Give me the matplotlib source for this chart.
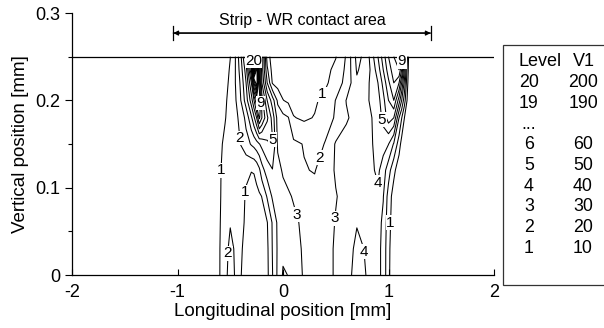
import numpy as np
import matplotlib
matplotlib.use("Agg")
import matplotlib.pyplot as plt
from matplotlib.patches import Rectangle

plt.rcParams['font.family'] = ['Liberation Sans', 'DejaVu Sans']
plt.rcParams['axes.unicode_minus'] = False

# Sampling positions of the V1 field [mm]
x_nodes = [-2.0, -0.7, -0.6, -0.55, -0.5, -0.45, -0.4, -0.35, -0.3, -0.275,
           -0.25, -0.225, -0.2, -0.15, -0.1, -0.05, 0.0, 0.05, 0.1, 0.2,
           0.3, 0.4, 0.5, 0.6, 0.7, 0.8, 0.9, 0.95, 1.0, 1.05,
           1.1, 1.125, 1.15, 1.175, 1.2, 2.0]
y_nodes = [0.0, 0.03, 0.06, 0.09, 0.12, 0.15, 0.18, 0.2, 0.22, 0.235, 0.25]

# V1 values, one row per y_nodes entry, one column per x_nodes entry
v1_y000 = [0, 2, 9.8, 17, 24, 19, 10.3, 7, 5, 5, 5, 5.5, 6, 7.5, 19.6, 32, 41, 39.8,
           35, 29, 25, 27, 31, 37, 43, 39.5, 33, 27, 12, 3, 0, 0, 0, 0, 0, 0]
v1_y003 = [0, 2, 9.7, 17, 22, 19, 11, 7.5, 5.5, 5, 5, 5.5, 6, 8, 20.5, 31.5, 38, 37,
           34, 28.5, 25, 27, 31, 36, 42, 39, 33, 27, 12.5, 3, 0, 0, 0, 0, 0, 0]
v1_y006 = [0, 2.5, 9.3, 15.5, 19.5, 19.8, 12.5, 8.5, 6.5, 6, 6, 6.5, 7, 9.5, 21, 32, 36, 35,
           32.5, 27.5, 25, 26, 30.5, 35, 39.5, 37.5, 33.5, 28, 14, 4, 0, 0, 0, 0, 0, 0]
v1_y009 = [0, 3, 9, 14, 17, 17.5, 13.5, 9, 7.5, 7, 7.5, 8.5, 10.2, 21, 31.5, 35, 34, 31.5,
           29, 25, 23, 25, 29.5, 33, 35, 36, 38, 30.5, 16, 5, 0, 0, 0, 0, 0, 0]
v1_y012 = [0, 3.5, 9, 13, 15.5, 16, 14, 11.5, 10.2, 10.5, 13, 18, 26, 35, 39.5, 34, 28.5, 26,
           23.5, 20.5, 19.5, 25, 31, 33, 34, 36, 42, 35, 24, 13, 3, 0, 0, 0, 0, 0]
v1_y015 = [0, 4, 8.5, 11.5, 14.5, 17, 20.3, 26, 31, 33, 36, 39.5, 43, 48, 51, 28, 26, 23.5,
           22, 19.5, 16, 20.5, 31, 33, 34, 37, 43, 44, 40.3, 29, 15, 6, 0, 0, 0, 0]
v1_y018 = [0, 5, 8, 9.5, 13, 17.5, 23, 33, 48, 58, 70, 92, 80, 62, 46, 26, 23, 20.5,
           10.5, 8.5, 10.5, 16, 21, 29, 33, 37, 44, 53, 65, 60, 30, 20.3, 10.3, 2, 0, 0]
v1_y020 = [0, 5.5, 7.5, 9, 12, 19, 30, 45, 65, 80, 100, 110, 75, 50, 35, 18, 10.3, 8,
           6.5, 6, 8.5, 13, 20.3, 30.3, 36, 39, 46, 57, 70, 80, 55, 40, 25, 10.3, 0, 0]
v1_y022 = [0, 6, 7, 8.5, 11, 20.3, 32, 50, 80, 120, 150, 95, 60, 30, 9, 6, 5, 4.5,
           4, 4, 5, 8, 15, 23, 38.5, 38, 50, 63, 78, 90, 80, 60, 38, 15, 0, 0]
v1_y0235 = [0, 6, 7, 8, 10.5, 20.3, 35, 55, 100, 190, 150, 90, 55, 22, 6, 4.5, 4, 3.5,
            3.5, 3.5, 4, 7, 12.5, 22, 41, 35, 55, 70, 85, 95, 100, 80, 50, 20, 0, 0]
v1_y025 = [0, 6, 7, 8, 9.9, 20.3, 38, 65, 140, 230, 160, 100, 60, 15, 5, 4, 3.5, 3,
           3, 3, 3.5, 6.5, 9.5, 21, 43, 36, 60, 75, 90, 100, 105, 100, 60, 25, 0, 0]

contour_levels = [10, 20, 30, 40, 50, 60, 70, 80, 90, 100,
                  110, 120, 130, 140, 150, 160, 170, 180, 190, 200]
level_numbers = [1, 2, 3, 4, 5, 6, 7, 8, 9, 10,
                 11, 12, 13, 14, 15, 16, 17, 18, 19, 20]

# Where individual contour labels sit: V1 level with its x, y
label_levels = [200, 90, 50, 20, 10, 10, 20, 30, 30, 40, 10, 40, 50, 90, 10, 20]
label_x = [-0.28, -0.23, -0.12, -0.39, -0.57, -0.36, -0.51, 0.13, 0.49, 0.79,
           1.04, 0.87, 0.94, 1.08, 0.35, 0.35]
label_y = [0.245, 0.197, 0.155, 0.157, 0.12, 0.095, 0.025, 0.069, 0.065, 0.027,
           0.06, 0.105, 0.178, 0.245, 0.208, 0.134]

surface_y = 0.25
contact_start = -1.04
contact_end = 1.40

legend_level_col = ["20", "19", "...", "6", "5", "4", "3", "2", "1"]
legend_v1_col = ["200", "190", "", "60", "50", "40", "30", "20", "10"]

W, H = 604, 328
fig = plt.figure(figsize=(W / 100, H / 100), dpi=100)
ax = fig.add_axes([72 / W, 53 / H, 422 / W, 262 / H])

field = np.array([v1_y000, v1_y003, v1_y006, v1_y009, v1_y012, v1_y015,
                  v1_y018, v1_y020, v1_y022, v1_y0235, v1_y025], dtype=float)
X, Y = np.meshgrid(x_nodes, y_nodes)
cs = ax.contour(X, Y, field, levels=contour_levels, colors='black', linewidths=0.75)

fmt = {v: str(n) for v, n in zip(contour_levels, level_numbers)}
# set up label formatting for every level, then place each label on its own level
ax.clabel(cs, levels=contour_levels, manual=[], fmt=fmt, fontsize=11,
          inline=True, inline_spacing=1)
all_indices = list(cs.labelIndiceList)
for lev, lx, ly in zip(label_levels, label_x, label_y):
    cs.labelIndiceList = [contour_levels.index(lev)]
    cs.add_label_near(lx, ly, inline=True, inline_spacing=1)
cs.labelIndiceList = all_indices
for t in cs.labelTexts:
    t.set_rotation(0)
    t.set_bbox(dict(facecolor='white', edgecolor='none', pad=0.3))
    t.set_zorder(5)

# strip surface
ax.axhline(surface_y, color='black', lw=0.9)

# contact-area dimension arrow
arrow_y = 0.277
ax.annotate('', xy=(contact_end, arrow_y), xytext=(contact_start, arrow_y),
            arrowprops=dict(arrowstyle='-|>', color='black', lw=0.9,
                            mutation_scale=7, shrinkA=0, shrinkB=0))
ax.annotate('', xy=(contact_start, arrow_y), xytext=(contact_end, arrow_y),
            arrowprops=dict(arrowstyle='-|>', color='black', lw=0.9,
                            mutation_scale=7, shrinkA=0, shrinkB=0))
for xe in (contact_start, contact_end):
    ax.plot([xe, xe], [0.269, 0.285], color='black', lw=0.9)
ax.text((contact_start + contact_end) / 2, 0.291, 'Strip - WR contact area',
        ha='center', va='center', fontsize=11.5)

ax.set_xlim(-2, 2)
ax.set_ylim(0, 0.3)
ax.set_xticks([-2, -1, 0, 1, 2])
ax.set_xticklabels(['-2', '-1', '0', '1', '2'])
ax.set_yticks([0, 0.1, 0.2, 0.3])
ax.set_yticklabels(['0', '0.1', '0.2', '0.3'])
ax.set_yticks([0.05, 0.15, 0.25], minor=True)
ax.tick_params(axis='x', direction='in', length=4.5, width=0.8, pad=6.5, labelsize=13)
ax.tick_params(axis='y', which='major', direction='out', length=5, width=0.8,
               pad=3.5, labelsize=13)
ax.tick_params(axis='y', which='minor', direction='out', length=2.7, width=0.8)
for s in ('top', 'right'):
    ax.spines[s].set_visible(False)
for s in ('left', 'bottom'):
    ax.spines[s].set_linewidth(0.9)

ax.set_xlabel('Longitudinal position [mm]', fontsize=13.5)
ax.set_ylabel('Vertical position [mm]', fontsize=13.5)
ax.xaxis.set_label_coords(0.5, -0.108)
ax.yaxis.set_label_coords(-0.102, 0.5)

# level table
fig.add_artist(Rectangle((503 / W, 1 - 285 / H), 0.3, 240 / H, transform=fig.transFigure,
                         facecolor='white', edgecolor='#333333', lw=0.9))
row_px = 62
step = 20.7
fig.text(519 / W, 1 - row_px / H, 'Level', ha='left', va='center', fontsize=13)
fig.text(573 / W, 1 - row_px / H, 'V1', ha='left', va='center', fontsize=13)
for i, (lv, vv) in enumerate(zip(legend_level_col, legend_v1_col)):
    yy = 1 - (row_px + step * (i + 1)) / H
    if lv == "...":
        fig.text(521 / W, yy, lv, ha='left', va='center', fontsize=12.8)
    else:
        fig.text(529 / W, yy, lv, ha='center', va='center', fontsize=12.8)
    if vv:
        fig.text(583 / W, yy, vv, ha='center', va='center', fontsize=12.8)

fig.savefig('out.png', dpi=100)
